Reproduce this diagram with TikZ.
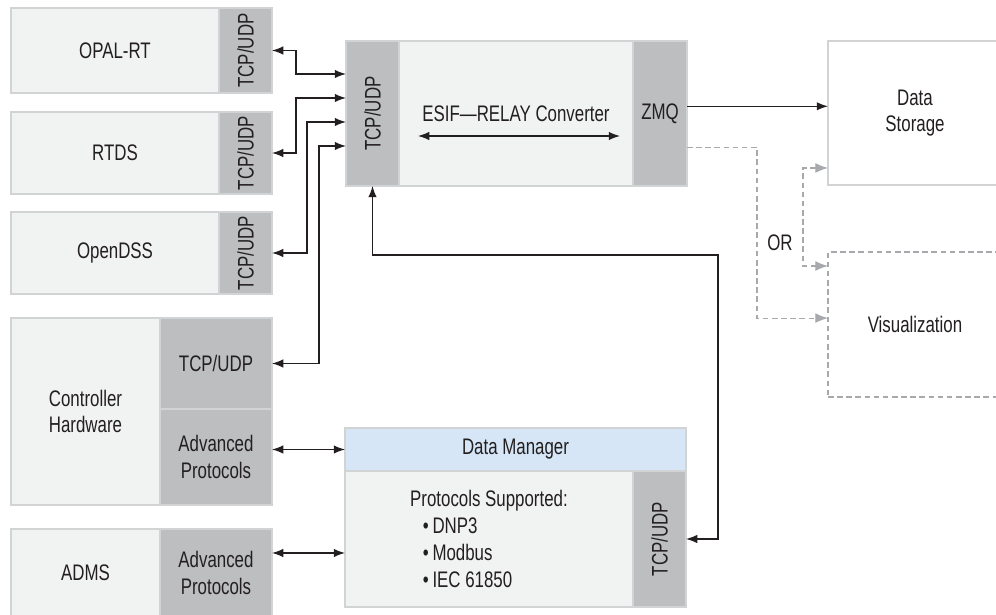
\documentclass[tikz,border=0pt]{standalone}
\usepackage{fontspec}
\setmainfont{Liberation Sans}[FakeStretch=0.75]
\usetikzlibrary{arrows.meta}

\definecolor{ink}{HTML}{231F20}
\definecolor{edge}{HTML}{D1D3D4}
\definecolor{panel}{HTML}{F1F2F2}
\definecolor{portgray}{HTML}{BCBEC0}
\definecolor{headblue}{HTML}{D6E6F6}
\definecolor{optgray}{HTML}{A7A9AC}

\tikzset{
    wh/.style 2 args={minimum width=#1*0.025cm, minimum height=#2*0.025cm},
    part/.style={draw=edge, fill=panel, line width=0.8pt, inner sep=0pt, outer sep=0pt, align=center},
    port/.style={part, fill=portgray},
    link/.style={draw=ink, line width=0.9pt, {Latex[length=8pt,width=6pt]}-{Latex[length=8pt,width=6pt]}},
    fwd/.style={draw=ink, line width=0.9pt, -{Latex[length=8pt,width=6pt]}},
    opt/.style={draw=optgray, line width=0.8pt, dash pattern=on 4pt off 2.5pt, -{Latex[length=9pt,width=7pt]}},
}

\begin{document}
\begin{tikzpicture}[x=0.025cm, y=-0.025cm, font=\fontsize{16}{19}\selectfont, text=ink]
    \useasboundingbox (0,0) rectangle (996,615);
    \clip (0,0) rectangle (996,615);

    % simulators
    \node[part, wh={208}{85}] (opal) at (115,50.5) {OPAL-RT};
    \node[port, wh={53}{85}, label={[rotate=90]center:TCP/UDP}] (opalP) at (245.5,50.5) {};
    \node[part, wh={208}{82}] (rtds) at (115,153) {RTDS};
    \node[port, wh={53}{82}, label={[rotate=90]center:TCP/UDP}] (rtdsP) at (245.5,153) {};
    \node[part, wh={208}{82}] (dss) at (115,253) {OpenDSS};
    \node[port, wh={53}{82}, label={[rotate=90]center:TCP/UDP}] (dssP) at (245.5,253) {};

    % controller and ADMS
    \node[part, wh={149}{187}, align=left] (ctrl) at (85.5,411.5) {Controller\\Hardware};
    \node[port, wh={112}{91}] (ctrlP) at (216,363.5) {TCP/UDP};
    \node[port, wh={112}{96}] (ctrlA) at (216,457) {Advanced\\Protocols};
    \node[part, wh={149}{88}] (adms) at (85.5,573) {ADMS};
    \node[port, wh={112}{88}] (admsA) at (216,573) {Advanced\\Protocols};

    % converter
    \node[port, wh={53}{145}, label={[rotate=90]center:TCP/UDP}] (convP) at (372.5,113.5) {};
    \node[part, wh={234}{145}] (conv) at (516,113.5) {ESIF---RELAY Converter};
    \node[port, wh={54}{145}] (zmq) at (660,113.5) {ZMQ};

    % outputs
    \node[part, fill=white, wh={174}{144}] (store) at (915,113) {Data\\Storage};
    \node[part, fill=white, draw=optgray, dash pattern=on 4pt off 2.5pt, wh={174}{145}] (vis) at (915,324.5) {Visualization};
    \node (orlbl) at (780,243) {OR};

    % data manager
    \node[part, fill=headblue, wh={341}{43}] (dmH) at (515.5,449.5) {Data Manager};
    \node[part, wh={288}{136}, align=left] (dmB) at (489,539)
        {Protocols Supported:\\\hspace*{9pt}\textbullet\,DNP3\\\hspace*{9pt}\textbullet\,Modbus\\\hspace*{9pt}\textbullet\,IEC 61850};
    \node[port, wh={53}{136}, label={[rotate=90]center:TCP/UDP}] (dmP) at (659.5,539) {};

    \coordinate (in1) at (346,74);
    \coordinate (in2) at (346,98);
    \coordinate (in3) at (346,122);
    \coordinate (in4) at (346,146);
    \coordinate (bend) at (718,255);
    \coordinate (convL) at (418,136);
    \coordinate (convR) at (620,136);

    \draw[link] (opalP.east) -- ++(24,0) |- (in1);
    \draw[link] (rtdsP.east) -- ++(24,0) |- (in2);
    \draw[link] (dssP.east) -- ++(35,0) |- (in3);
    \draw[link] (ctrlP.east) -- ++(47,0) |- (in4);
    \draw[link] (ctrlA.east |- dmH.west) -- (dmH.west);
    \draw[link] ([yshift=0.5cm]admsA.east) -- ([yshift=0.5cm]admsA.east -| dmB.west);
    \draw[link] (convP.south) |- (bend) |- (dmP.east);
    \draw[link] (convL) -- (convR);
    \draw[fwd] ([yshift=0.18cm]zmq.east) -- ([yshift=0.18cm]zmq.east -| store.west);
    \draw[opt] ([yshift=-0.84cm]zmq.east) -- ++(70,0) |- ([yshift=0.16cm]vis.west);
    \draw[opt, {Latex[length=9pt,width=7pt]}-{Latex[length=9pt,width=7pt]}] ([yshift=0.425cm]store.south west) -- ++(-25,0) |- ([yshift=-0.35cm]vis.north west);
\end{tikzpicture}
\end{document}
